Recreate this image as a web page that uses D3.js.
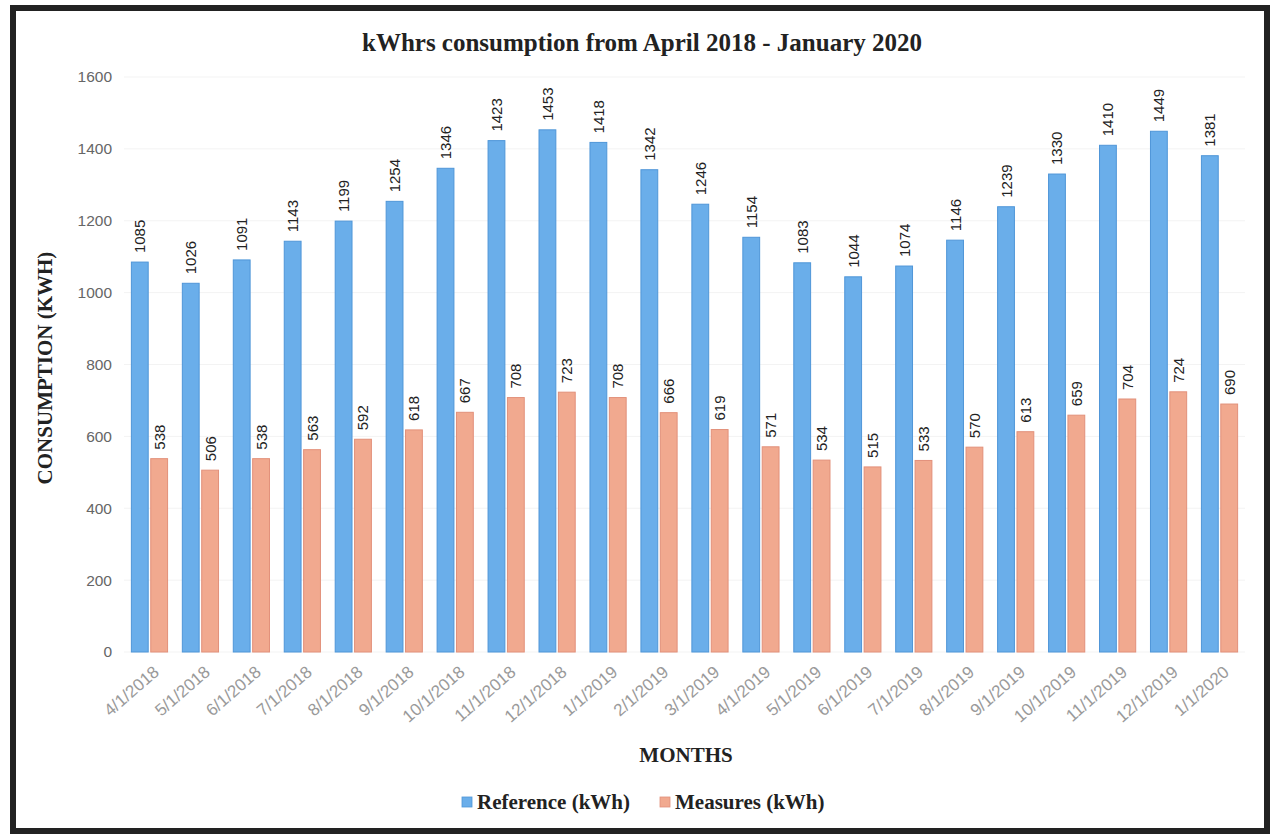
<!DOCTYPE html>
<html><head><meta charset="utf-8">
<script src="https://cdn.jsdelivr.net/npm/d3@7"></script>
<style>body{margin:0;background:#fff;}svg{display:block;}</style>
</head><body>
<svg id="c" width="1277" height="837"></svg>
<script>
const months = ["4/1/2018","5/1/2018","6/1/2018","7/1/2018","8/1/2018","9/1/2018","10/1/2018","11/1/2018","12/1/2018","1/1/2019","2/1/2019","3/1/2019","4/1/2019","5/1/2019","6/1/2019","7/1/2019","8/1/2019","9/1/2019","10/1/2019","11/1/2019","12/1/2019","1/1/2020"];
const reference = [1085,1026,1091,1143,1199,1254,1346,1423,1453,1418,1342,1246,1154,1083,1044,1074,1146,1239,1330,1410,1449,1381];
const measures = [538,506,538,563,592,618,667,708,723,708,666,619,571,534,515,533,570,613,659,704,724,690];
const yTicks = [0,200,400,600,800,1000,1200,1400,1600];
const seriesNames = ["Reference (kWh)","Measures (kWh)"];

const svg = d3.select("#c");
// frame
svg.append("rect").attr("x",13).attr("y",8).attr("width",1254).attr("height",823)
  .attr("fill","#fff").attr("stroke","#222").attr("stroke-width",6);

const x0 = d3.scaleBand().domain(months).range([124,1245]).paddingInner(0.27).paddingOuter(0.135);
const series = [reference, measures];
const x1 = d3.scaleBand().domain([0,1]).range([0,x0.bandwidth()]).paddingInner(0.08);
const y = d3.scaleLinear().domain([0,1600]).range([652,77]);

const serif = "'Liberation Serif','Times New Roman',serif";
const sans = "'Liberation Sans',Arial,sans-serif";

// gridlines
svg.append("g").selectAll("line").data(yTicks).join("line")
  .attr("x1",124).attr("x2",1245).attr("y1",d=>y(d)).attr("y2",d=>y(d))
  .attr("stroke","#f3f3f3").attr("stroke-width",1);

// y axis
const ya = svg.append("g").attr("transform","translate(112,0)")
  .call(d3.axisLeft(y).tickValues(yTicks).tickFormat(d3.format("d")).tickSize(0).tickPadding(0));
ya.select(".domain").remove();
ya.selectAll("text").attr("font-family",sans).attr("font-size",15.5).attr("fill","#666");

const colors = ["#6aaeea","#f1a98f"];
const strokes = ["#4f96d8","#e2907a"];

const groups = svg.append("g").selectAll("g").data(months).join("g")
  .attr("transform",d=>`translate(${x0(d)},0)`);
[0,1].forEach(s=>{
  groups.append("rect")
    .attr("x",x1(s)+0.5).attr("width",x1.bandwidth()-1)
    .attr("y",(d,i)=>y(series[s][i])).attr("height",(d,i)=>y(0)-y(series[s][i]))
    .attr("fill",colors[s]).attr("stroke",strokes[s]).attr("stroke-width",1);
  groups.append("text")
    .attr("transform",(d,i)=>`translate(${x1(s)+x1.bandwidth()/2+5.5},${y(series[s][i])-9}) rotate(-90)`)
    .attr("font-family",sans).attr("font-size",15).attr("fill","#222")
    .text((d,i)=>series[s][i]);
});

// x axis labels
const xa = svg.append("g").attr("transform","translate(0,666)")
  .call(d3.axisBottom(x0).tickSize(0).tickPadding(0));
xa.select(".domain").remove();
xa.selectAll("text").attr("font-family",sans).attr("font-size",17).attr("fill","#9a9a9a")
  .attr("text-anchor","end").attr("dy","0.6em")
  .attr("transform","translate(4,0) rotate(-41)");

// titles
svg.append("text").attr("x",642).attr("y",51).attr("text-anchor","middle")
  .attr("font-family",serif).attr("font-weight","bold").attr("font-size",25).attr("fill","#222")
  .text("kWhrs consumption from April 2018 - January 2020");
svg.append("text").attr("x",686).attr("y",762).attr("text-anchor","middle")
  .attr("font-family",serif).attr("font-weight","bold").attr("font-size",21).attr("fill","#222")
  .text("MONTHS");
svg.append("text").attr("transform","translate(52,368) rotate(-90)").attr("text-anchor","middle")
  .attr("font-family",serif).attr("font-weight","bold").attr("font-size",21).attr("fill","#222")
  .text("CONSUMPTION (KWH)");

// legend
const legX = [462,660];
const leg = svg.append("g").selectAll("g").data(seriesNames).join("g")
  .attr("transform",(d,i)=>`translate(${legX[i]},0)`);
leg.append("rect").attr("x",0).attr("y",797).attr("width",10).attr("height",10)
  .attr("fill",(d,i)=>colors[i]).attr("stroke",(d,i)=>strokes[i]).attr("stroke-width",0.8);
leg.append("text").attr("x",15).attr("y",809)
  .attr("font-family",serif).attr("font-weight","bold").attr("font-size",21).attr("fill","#222")
  .text(d=>d);
</script>
</body></html>
